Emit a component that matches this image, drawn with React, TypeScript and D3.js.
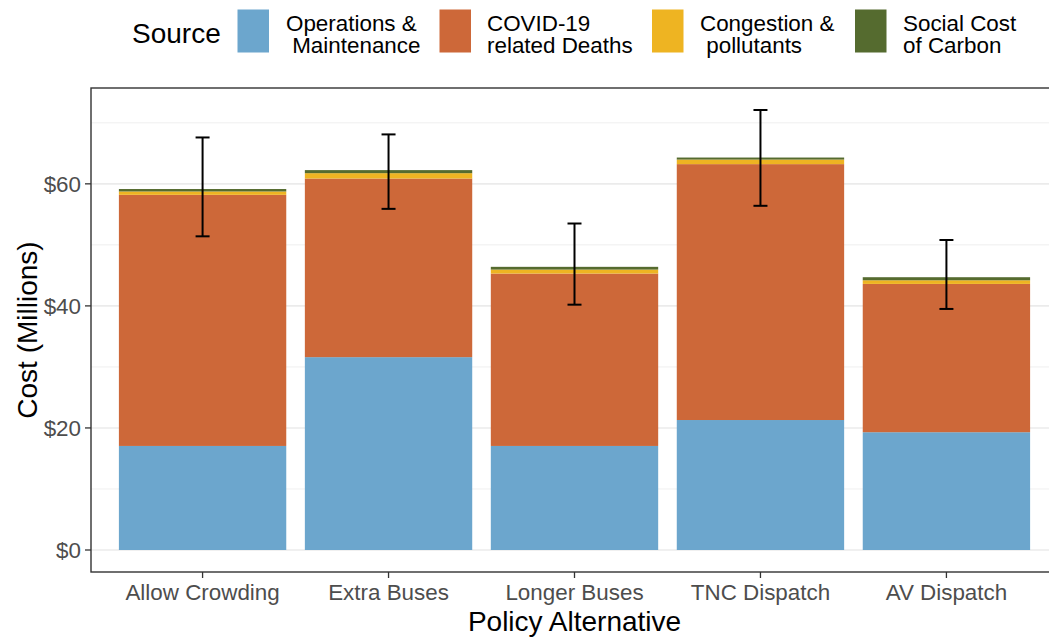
import React from "react";
import * as d3 from "d3";

const categories = ["Allow Crowding", "Extra Buses", "Longer Buses", "TNC Dispatch", "AV Dispatch"];
const sources = ["Operations & Maintenance", "COVID-19 related Deaths", "Congestion & pollutants", "Social Cost of Carbon"];
const legendLines = [["Operations &", " Maintenance"], ["COVID-19", "related Deaths"], ["Congestion &", " pollutants"], ["Social Cost", "of Carbon"]];
const opsMaint = [17.05, 31.6, 17.05, 21.3, 19.3];
const covidDeaths = [41.15, 29.27, 28.25, 41.93, 24.3];
const congestion = [0.55, 0.88, 0.65, 0.75, 0.6];
const carbon = [0.4, 0.5, 0.45, 0.33, 0.5];
const errLow = [51.4, 55.9, 40.2, 56.4, 39.5];
const errHigh = [67.6, 68.1, 53.5, 72.1, 50.8];
const yTicks = [0, 20, 40, 60];
const yMinor = [10, 30, 50, 70];
const colors = ["#6CA6CD", "#CD6839", "#EEB422", "#556B2F"];

const W = 1049, H = 637;
const panel = { left: 91, top: 88, bottom: 572, right: 1058 };
const legendKeyX = [237.5, 439.5, 652, 855];
const legendTextX = [286, 487, 700, 903];
const FONT = "'Liberation Sans', Arial, sans-serif";

export default function App() {
  const rows = categories.map((c, i) => ({
    cat: c,
    [sources[0]]: opsMaint[i],
    [sources[1]]: covidDeaths[i],
    [sources[2]]: congestion[i],
    [sources[3]]: carbon[i],
  }));
  const stacked = d3.stack<any>().keys(sources)(rows);

  const x = d3.scaleBand<string>().domain(categories).range([panel.left, panel.right]).paddingInner(0.1).paddingOuter(0.15);
  const dataMax = d3.max(errHigh) as number;
  const pad = dataMax * 0.05;
  const y = d3.scaleLinear().domain([-pad, dataMax + pad]).range([panel.bottom, panel.top]);

  const capHalf = 7;

  return (
    <svg width={W} height={H} style={{ position: "absolute", left: 0, top: 0, fontFamily: FONT }}>
      <rect x={0} y={0} width={W} height={H} fill="#fff" />
      <defs>
        <clipPath id="pclip">
          <rect x={panel.left} y={panel.top} width={panel.right - panel.left} height={panel.bottom - panel.top} />
        </clipPath>
      </defs>
      <g clipPath="url(#pclip)">
        {yMinor.map((t) => (
          <line key={"mi" + t} x1={panel.left} x2={panel.right} y1={y(t)} y2={y(t)} stroke="#EBEBEB" strokeWidth={0.8} />
        ))}
        {yTicks.map((t) => (
          <line key={"ma" + t} x1={panel.left} x2={panel.right} y1={y(t)} y2={y(t)} stroke="#EBEBEB" strokeWidth={1.6} />
        ))}
        {stacked.map((layer, li) => (
          <g key={layer.key} fill={colors[li]}>
            {layer.map((d, i) => (
              <rect key={i} x={x(categories[i])} width={x.bandwidth()} y={y(d[1])} height={y(d[0]) - y(d[1])} />
            ))}
          </g>
        ))}
        {categories.map((c, i) => {
          const cx = (x(c) as number) + x.bandwidth() / 2;
          return (
            <g key={"e" + c} stroke="#000" strokeWidth={2}>
              <line x1={cx} x2={cx} y1={y(errLow[i])} y2={y(errHigh[i])} />
              <line x1={cx - capHalf} x2={cx + capHalf} y1={y(errLow[i])} y2={y(errLow[i])} />
              <line x1={cx - capHalf} x2={cx + capHalf} y1={y(errHigh[i])} y2={y(errHigh[i])} />
            </g>
          );
        })}
      </g>
      <rect x={panel.left} y={panel.top} width={panel.right - panel.left} height={panel.bottom - panel.top} fill="none" stroke="#333333" strokeWidth={1.4} />
      {yTicks.map((t) => (
        <g key={"yt" + t}>
          <line x1={panel.left - 6} x2={panel.left} y1={y(t)} y2={y(t)} stroke="#333333" strokeWidth={1.3} />
          <text x={panel.left - 10} y={y(t)} dy="0.36em" textAnchor="end" fontSize={22.4} fill="#4D4D4D">{"$" + t}</text>
        </g>
      ))}
      {categories.map((c) => {
        const cx = (x(c) as number) + x.bandwidth() / 2;
        return (
          <g key={"xt" + c}>
            <line x1={cx} x2={cx} y1={panel.bottom} y2={panel.bottom + 6} stroke="#333333" strokeWidth={1.3} />
            <text x={cx} y={600} textAnchor="middle" fontSize={22.4} fill="#4D4D4D">{c}</text>
          </g>
        );
      })}
      <text x={(panel.left + panel.right) / 2} y={631} textAnchor="middle" fontSize={28} fill="#000">Policy Alternative</text>
      <text transform={`translate(37,${(panel.top + panel.bottom) / 2}) rotate(-90)`} textAnchor="middle" fontSize={28} fill="#000">Cost (Millions)</text>
      <text x={132} y={43} fontSize={28} fill="#000">Source</text>
      {sources.map((s, i) => (
        <g key={"lg" + s}>
          <rect x={legendKeyX[i]} y={9.5} width={31.5} height={43} fill={colors[i]} />
          {legendLines[i].map((ln, j) => (
            <text key={j} x={legendTextX[i]} y={30.5 + j * 22} fontSize={22.4} fill="#000" style={{ whiteSpace: "pre" }}>{ln}</text>
          ))}
        </g>
      ))}
    </svg>
  );
}
